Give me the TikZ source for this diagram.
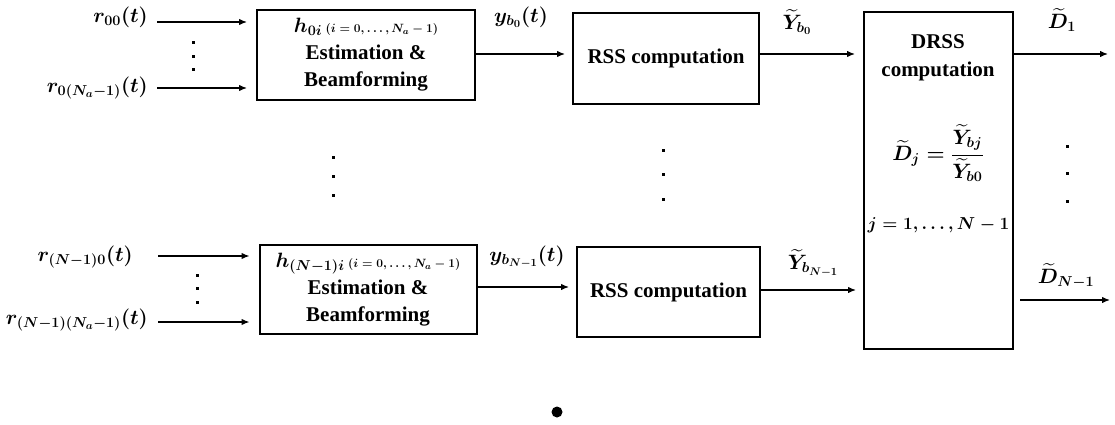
\documentclass[tikz,border=0pt]{standalone}
\usepackage{fontspec}
\setmainfont{Liberation Serif}
\usepackage{amsmath}
\usetikzlibrary{arrows.meta}
\begin{document}
\begin{tikzpicture}[x=1pt,y=-1pt,
  box/.style={draw, line width=2pt, inner sep=0pt, align=center,
    font=\fontsize{21}{27}\selectfont\bfseries\boldmath},
  arr/.style={-{Latex[length=8pt,width=6.5pt]}, line width=1.3pt},
  lbl/.style={inner sep=0pt, font=\fontsize{21}{24}\selectfont\boldmath},
  txt/.style={inner sep=0pt, font=\fontsize{21}{25}\selectfont\bfseries\boldmath},
  dotm/.style={fill, inner sep=0pt, minimum size=3pt}]
\useasboundingbox (0,0) rectangle (1115,425);
% boxes
\node[box, minimum width=218pt, minimum height=90pt] (eb1) at (366,55)
  {$h_{0i}$\,{\fontsize{12.5}{13}\selectfont$(i=0,\dots,N_a-1)$}\\Estimation \&\\Beamforming};
\node[box, minimum width=186pt, minimum height=91pt] (rss1) at (666,58.5) {RSS computation};
\node[box, minimum width=149pt, minimum height=337pt] (drss) at (938.5,180.5) {};
\node[box, minimum width=217pt, minimum height=89pt] (eb2) at (368,289.5)
  {$h_{(N-1)i}$\,{\fontsize{12.5}{13}\selectfont$(i=0,\dots,N_a-1)$}\\Estimation \&\\Beamforming};
\node[box, minimum width=183pt, minimum height=90pt] (rss2) at (668.5,292) {RSS computation};
% DRSS texts
\node[txt, align=center] (drssT) at (938,58) {DRSS\\[3pt]computation};
\node[txt] (frm) at (938,153) {$\widetilde{D}_j=\dfrac{\widetilde{Y}_{bj}}{\widetilde{Y}_{b0}}$};
\node[txt, font=\fontsize{18}{22}\selectfont\bfseries\boldmath] (jr) at (938.5,225) {$j=1,\dots,N-1$};
% input labels and arrows (top)
\node[lbl, anchor=east] (r00) at (148,17) {$r_{00}(t)$};
\node[lbl, anchor=east] (r0N) at (148,88) {$r_{0(N_a-1)}(t)$};
\coordinate (s1) at (157,22);
\coordinate (s2) at (157,88);
\draw[arr] (s1) -- ([xshift=-9pt]eb1.west |- s1);
\draw[arr] (s2) -- ([xshift=-9pt]eb1.west |- s2);
\node[dotm] (d1) at (193,43) {};
\node[dotm] (d2) at (193,57) {};
\node[dotm] (d3) at (193,70) {};
% input labels and arrows (bottom)
\node[lbl, anchor=east] (rN0) at (133,257) {$r_{(N-1)0}(t)$};
\node[lbl, anchor=east] (rNN) at (148,320) {$r_{(N-1)(N_a-1)}(t)$};
\coordinate (s3) at (158,256);
\coordinate (s4) at (158,322);
\draw[arr] (s3) -- ([xshift=-9pt]eb2.west |- s3);
\draw[arr] (s4) -- ([xshift=-9pt]eb2.west |- s4);
\node[dotm] (d4) at (197,275) {};
\node[dotm] (d5) at (197,288) {};
\node[dotm] (d6) at (197,302) {};
% middle
\draw[arr] (eb1.east |- 0,54) -- ([xshift=-7pt]rss1.west |- 0,54);
\node[lbl] (yb0) at (521,17) {$y_{b_0}(t)$};
\draw[arr] (rss1.east |- 0,54) -- ([xshift=-8pt]drss.west |- 0,54);
\node[lbl] (Yb0) at (797,22) {$\widetilde{Y}_{b_0}$};
\draw[arr] (drss.east |- 0,54) -- (1108,54) coordinate (o1);
\node[lbl] (D1) at (1062,20) {$\widetilde{D}_1$};
\draw[arr] (eb2.east |- 0,287) -- ([xshift=-7pt]rss2.west |- 0,287);
\node[lbl] (ybN) at (527,257) {$y_{b_{N-1}}(t)$};
\draw[arr] (rss2.east |- 0,290) -- ([xshift=-7pt]drss.west |- 0,290);
\node[lbl] (YbN) at (813,263) {$\widetilde{Y}_{b_{N-1}}$};
\draw[arr] ([xshift=6pt]drss.east |- 0,300) -- (1110,300) coordinate (o2);
\node[lbl] (DN) at (1066,276) {$\widetilde{D}_{N-1}$};
% vertical dots
\node[dotm] (a1) at (333,157) {};
\node[dotm] (a2) at (333,176) {};
\node[dotm] (a3) at (333,195) {};
\node[dotm] (b1) at (663,150) {};
\node[dotm] (b2) at (663,174) {};
\node[dotm] (b3) at (663,199) {};
\node[dotm] (c1) at (1067,146) {};
\node[dotm] (c2) at (1067,173) {};
\node[dotm] (c3) at (1067,201) {};
\fill (557,412) circle (5.5pt);
\end{tikzpicture}
\end{document}
